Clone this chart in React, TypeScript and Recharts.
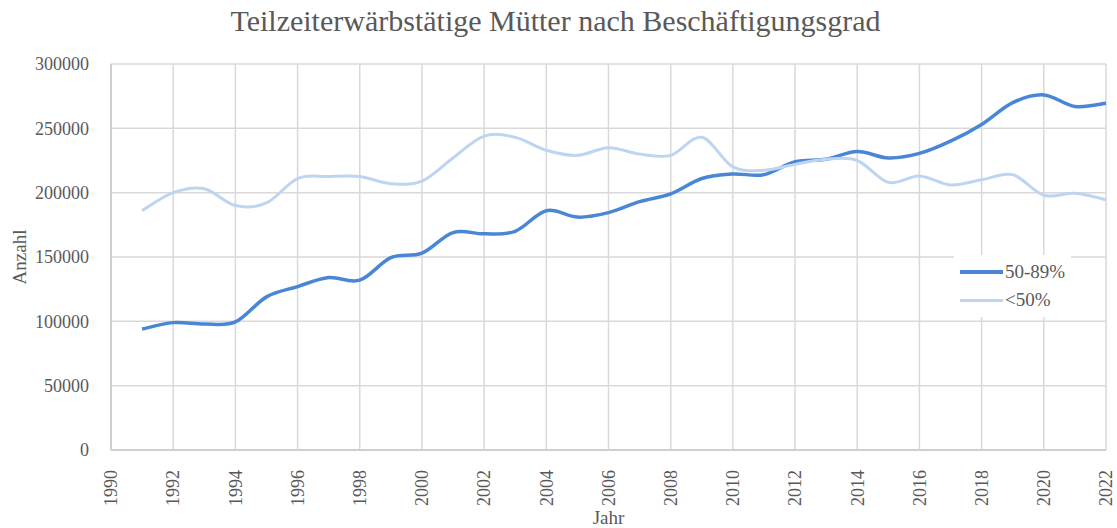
import { CartesianGrid, Legend, Line, LineChart, XAxis, YAxis } from "recharts";

const years = [
  1991, 1992, 1993, 1994, 1995, 1996, 1997, 1998, 1999, 2000, 2001, 2002, 2003, 2004, 2005, 2006,
  2007, 2008, 2009, 2010, 2011, 2012, 2013, 2014, 2015, 2016, 2017, 2018, 2019, 2020, 2021, 2022,
];

const teilzeit5089 = [
  94000, 99000, 98000, 99500, 119000, 127000, 134000, 132000, 149500, 153000, 169000, 168000,
  170000, 186000, 181000, 184500, 193000, 199000, 211000, 214500, 214000, 224000, 226000, 232000,
  227000, 230500, 240000, 253000, 270000, 276000, 267000, 269500,
];

const teilzeitUnter50 = [
  186000, 200000, 203000, 190000, 192000, 211000, 212500, 212500, 207000, 209000, 227000, 244000,
  243000, 233000, 229000, 235000, 230000, 229000, 243000, 220000, 217500, 222000, 226000, 225000,
  208000, 213000, 206000, 210000, 214000, 198000, 199500, 194500,
];

const xTicks = [
  1990, 1992, 1994, 1996, 1998, 2000, 2002, 2004, 2006, 2008, 2010, 2012, 2014, 2016, 2018, 2020,
  2022,
];
const yTicks = [0, 50000, 100000, 150000, 200000, 250000, 300000];

const series = [
  { key: "a", name: "50-89%", color: "#4a86d6", width: 3.5 },
  { key: "b", name: "<50%", color: "#bdd5f1", width: 3 },
];

const data = years.map((y, i) => ({ year: y, a: teilzeit5089[i], b: teilzeitUnter50[i] }));

const FONT = '"Liberation Serif", "Times New Roman", serif';
const TEXT = "#595959";
const GRID = "#d9d9d9";

// Excel-style smoothed line (Catmull-Rom through every point)
function smoothCurve(context: any) {
  let pts: number[][] = [];
  return {
    areaStart() {},
    areaEnd() {},
    lineStart() {
      pts = [];
    },
    point(x: number, y: number) {
      pts.push([+x, +y]);
    },
    lineEnd() {
      if (!pts.length) return;
      context.moveTo(pts[0][0], pts[0][1]);
      for (let i = 0; i < pts.length - 1; i++) {
        const p0 = pts[Math.max(i - 1, 0)];
        const p1 = pts[i];
        const p2 = pts[i + 1];
        const p3 = pts[Math.min(i + 2, pts.length - 1)];
        context.bezierCurveTo(
          p1[0] + (p2[0] - p0[0]) / 6,
          p1[1] + (p2[1] - p0[1]) / 6,
          p2[0] - (p3[0] - p1[0]) / 6,
          p2[1] - (p3[1] - p1[1]) / 6,
          p2[0],
          p2[1],
        );
      }
    },
  };
}

function XTick({ x, y, payload }: any) {
  return (
    <text
      x={x}
      y={y + 12}
      transform={`rotate(-90, ${x}, ${y + 12})`}
      textAnchor="end"
      dy="0.35em"
      fill={TEXT}
      fontSize={18}
      fontFamily={FONT}
    >
      {payload.value}
    </text>
  );
}

function LegendBox() {
  return (
    <div style={{ background: "#fff", padding: "3px 6px", fontFamily: FONT, fontSize: 19, color: TEXT }}>
      {series.map((s) => (
        <div key={s.key} style={{ display: "flex", alignItems: "center", height: 28, fontFamily: FONT }}>
          <span style={{ width: 43, height: s.width, background: s.color, marginRight: 2 }} />
          <span style={{ fontFamily: FONT }}>{s.name}</span>
        </div>
      ))}
    </div>
  );
}

export default function App() {
  return (
    <div
      style={{
        position: "absolute",
        left: 0,
        top: 0,
        width: 1117,
        height: 528,
        background: "#fff",
        fontFamily: FONT,
      }}
    >
      <div
        style={{
          position: "absolute",
          top: 4,
          left: 0,
          width: 1111,
          textAlign: "center",
          fontFamily: FONT,
          fontSize: 30,
          color: TEXT,
        }}
      >
        Teilzeiterwärbstätige Mütter nach Beschäftigungsgrad
      </div>
      <LineChart
        width={1117}
        height={528}
        data={data}
        margin={{ top: 64, right: 11, bottom: 18, left: 41 }}
      >
        <CartesianGrid stroke={GRID} strokeWidth={1.5} />
        <XAxis
          dataKey="year"
          type="number"
          domain={[1990, 2022]}
          ticks={xTicks}
          interval={0}
          height={60}
          tickLine={false}
          axisLine={{ stroke: "#cfcfcf", strokeWidth: 2 }}
          tick={<XTick />}
          label={{
            value: "Jahr",
            position: "insideBottom",
            offset: -14,
            fill: TEXT,
            fontSize: 19,
            fontFamily: FONT,
          }}
        />
        <YAxis
          domain={[0, 300000]}
          ticks={yTicks}
          width={70}
          tickLine={false}
          axisLine={{ stroke: "#cfcfcf", strokeWidth: 2 }}
          tick={{ fill: TEXT, fontSize: 18, fontFamily: FONT }}
          tickMargin={16}
          label={{
            value: "Anzahl",
            angle: -90,
            position: "insideLeft",
            offset: -22,
            fill: TEXT,
            fontSize: 19,
            fontFamily: FONT,
            style: { textAnchor: "middle" },
          }}
        />
        <Legend
          layout="vertical"
          align="center"
          verticalAlign="middle"
          content={<LegendBox />}
          wrapperStyle={{ position: "absolute", left: 954, top: 255, width: "auto" }}
        />
        {series.map((s) => (
          <Line
            key={s.key}
            type={smoothCurve as any}
            dataKey={s.key}
            name={s.name}
            stroke={s.color}
            strokeWidth={s.width}
            dot={false}
            isAnimationActive={false}
          />
        ))}
      </LineChart>
    </div>
  );
}
